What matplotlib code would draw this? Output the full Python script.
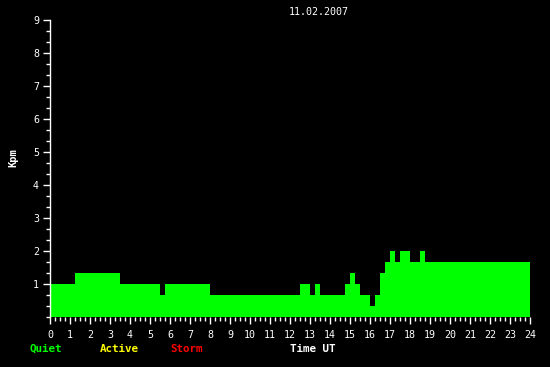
import matplotlib
matplotlib.use("Agg")
from matplotlib import pyplot as plt
from matplotlib.ticker import MultipleLocator

# Kpm steps (hours UT) and levels in thirds
edges = [0, 1.25, 3.5, 5.5, 5.75, 8, 12.5, 13, 13.25, 13.5, 14.75, 15, 15.25,
         15.5, 16, 16.25, 16.5, 16.75, 17, 17.25, 17.5, 18, 18.5, 18.75, 24]
kpm = [1, 4/3, 1, 2/3, 1, 2/3, 1, 2/3, 1, 2/3, 1, 4/3, 1, 2/3, 1/3, 2/3,
       4/3, 5/3, 2, 5/3, 2, 5/3, 2, 5/3]
date_label = "11.02.2007"
legend_labels = ["Quiet", "Active", "Storm"]
legend_colors = ["#00ff00", "#ffff00", "#ff0000"]

mono = "DejaVu Sans Mono"

fig = plt.figure(figsize=(5.5, 3.67), dpi=100, facecolor="black")
ax = fig.add_axes([50/550, 50/367, 480/550, 297/367], facecolor="black")

ax.stairs(kpm, edges, fill=True, color="#00ff00", linewidth=0)

ax.set_xlim(0, 24)
ax.set_ylim(0, 9)
ax.xaxis.set_major_locator(MultipleLocator(1))
ax.xaxis.set_minor_locator(MultipleLocator(0.25))
ax.yaxis.set_major_locator(MultipleLocator(1))
ax.yaxis.set_minor_locator(MultipleLocator(1/3))

for s in ["top", "right", "bottom"]:
    ax.spines[s].set_visible(False)
ax.spines["left"].set_color("white")
ax.spines["left"].set_linewidth(1)

ax.tick_params(axis="both", which="both", colors="white", labelcolor="white",
               width=1)
ax.tick_params(axis="x", which="major", length=5, pad=4.5, labelsize=7.2)
ax.tick_params(axis="x", which="minor", length=3)
ax.tick_params(axis="y", which="major", length=5, pad=3, labelsize=7.2)
ax.tick_params(axis="y", which="minor", length=3)
ax.set_yticks(range(1, 10))
for lab in ax.get_xticklabels() + ax.get_yticklabels():
    lab.set_family(mono)

fig.text(319/550, 1 - 12/367, date_label, color="white", fontsize=7.2,
         family=mono, ha="center", va="center")
fig.text(13/550, 1 - 158/367, "Kpm", color="white", fontsize=7.5,
         family=mono, weight="bold", rotation=90, ha="center", va="center")

for lab, col, x in zip(legend_labels, legend_colors, [30, 100, 170]):
    fig.text(x/550, 1 - 349/367, lab, color=col, fontsize=7.8, family=mono,
             weight="bold", ha="left", va="center")
fig.text(290/550, 1 - 349/367, "Time UT", color="white", fontsize=7.8,
         family=mono, weight="bold", ha="left", va="center")

fig.savefig("out.png", dpi=100, facecolor="black")
